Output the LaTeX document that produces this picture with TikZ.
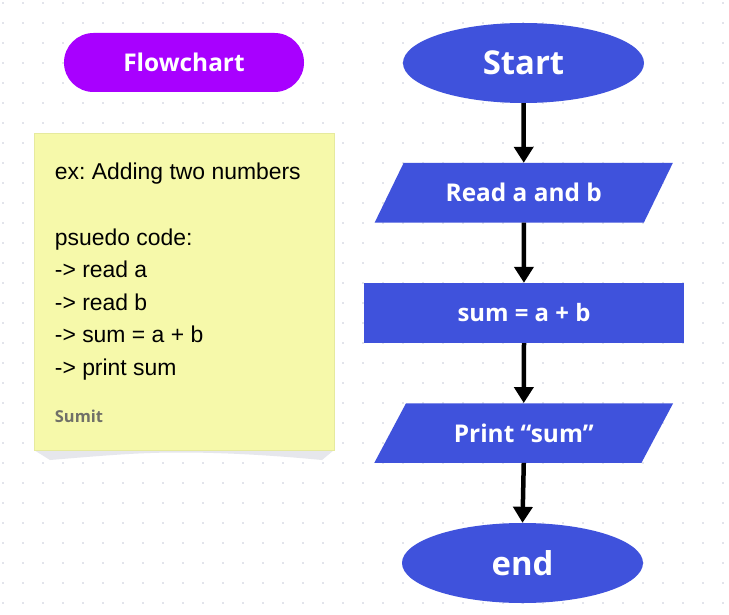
\documentclass[tikz,border=0pt]{standalone}
\usepackage{fontspec}
\setmainfont{Liberation Sans}
\newfontfamily\headfont{Open Sans}
\usetikzlibrary{shapes.geometric,arrows.meta}
\definecolor{purp}{HTML}{A800FF}
\definecolor{fcblue}{HTML}{3F52DC}
\definecolor{notey}{HTML}{F6F9AA}
\definecolor{noteedge}{HTML}{E6EA9E}
\definecolor{shadowc}{HTML}{E6E7EC}
\definecolor{dotc}{HTML}{C5C9D8}
\definecolor{graytext}{HTML}{707068}
\frenchspacing
\begin{document}
\begin{tikzpicture}[x=1bp,y=-1bp,
  pill/.style={fill=purp, rounded corners=29.5bp, minimum width=240bp, minimum height=59bp, inner sep=0pt, text=white, font=\headfont\bfseries\fontsize{24.5}{28}\selectfont},
  term/.style={ellipse, fill=fcblue, minimum width=241bp, minimum height=80bp, inner sep=0pt, text=white, font=\headfont\bfseries\fontsize{33}{36}\selectfont},
  io/.style={trapezium, trapezium left angle=45, trapezium right angle=135, trapezium stretches=true, minimum width=299bp, minimum height=59.5bp, inner sep=0pt, fill=fcblue, text=white, font=\headfont\bfseries\fontsize{24.5}{28}\selectfont},
  proc/.style={rectangle, minimum width=320bp, minimum height=60bp, inner sep=0pt, fill=fcblue, text=white, font=\headfont\bfseries\fontsize{24}{28}\selectfont},
  arr/.style={line width=4.5bp, -{Triangle[width=19bp,length=16bp]}},
  note/.style={rectangle, fill=notey, draw=noteedge, line width=0.6bp, minimum width=300bp, minimum height=317bp, inner sep=0pt},
  ntext/.style={anchor=base west, inner sep=0pt, text=black, font=\fontsize{23}{26}\selectfont},
  sign/.style={anchor=base west, inner sep=0pt, text=graytext, font=\headfont\bfseries\fontsize{16.5}{20}\selectfont}
]
\useasboundingbox (0,0) rectangle (729,615);
\fill[white] (0,0) rectangle (729,615);
\foreach \i in {0,...,36}{
  \foreach \j in {0,...,30}{
    \fill[dotc] (3+20*\i,3+20*\j) circle (0.9bp);
  }
}
% sticky note
\fill[shadowc] (34,450) -- (50,460) .. controls (110,455) and (140,452.5) .. (180,452.5)
  .. controls (230,452.5) and (280,456) .. (322,460) -- (334,450) -- cycle;
\node[note] (note) at (184,291.5) {};
\node[ntext] (l1) at (54.7,180) {ex: Adding two numbers};
\node[ntext] (l2) at (54.7,245) {psuedo code:};
\node[ntext] (l3) at (54.7,277.5) {-> read a};
\node[ntext] (l4) at (54.7,310) {-> read b};
\node[ntext] (l5) at (54.7,342.5) {-> sum = a + b};
\node[ntext] (l6) at (54.7,375) {-> print sum};
\node[sign] (who) at (54.7,422.5) {Sumit};
% title pill
\node[pill] (fc) at (184,62.5) {Flowchart};
% flowchart
\node[term] (start) at (523.5,63) {Start};
\node[io] (read) at (523.75,192.75) {Read a and b};
\node[proc] (sum) at (524,313) {sum = a + b};
\node[io] (print) at (523.75,433) {Print “sum”};
\node[term] (end) at (522.5,563) {end};
\draw[arr] (start.south) -- (read.north);
\draw[arr] (read.south) -- (sum.north);
\draw[arr] (sum.south) -- (print.north);
\draw[arr] (print.south) -- (end.north);
\end{tikzpicture}
\end{document}
